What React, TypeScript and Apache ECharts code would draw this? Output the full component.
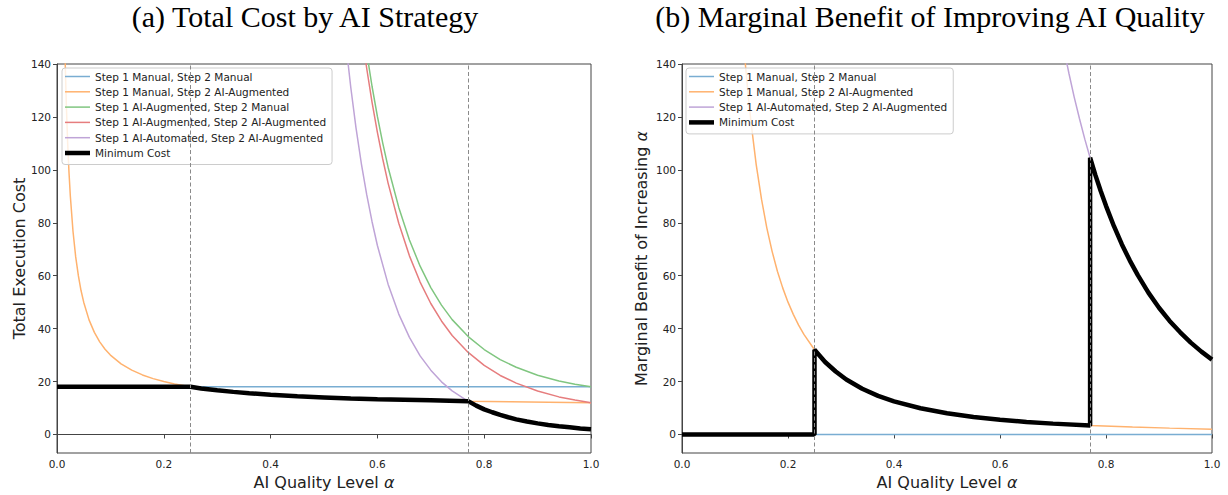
import React, { useEffect, useRef } from "react";
import * as echarts from "echarts";

// ---------- shared ----------
const seriesNames = [
  "Step 1 Manual, Step 2 Manual",
  "Step 1 Manual, Step 2 AI-Augmented",
  "Step 1 AI-Augmented, Step 2 Manual",
  "Step 1 AI-Augmented, Step 2 AI-Augmented",
  "Step 1 AI-Automated, Step 2 AI-Augmented",
  "Minimum Cost",
];
const seriesColors = ["#79add2", "#ffb26e", "#80c680", "#e67d7e", "#bfa4d7", "#000000"];
const thresholds = [0.25, 0.77];
const xTicks = [0, 0.2, 0.4, 0.6, 0.8, 1.0];
const yTicks = [0, 20, 40, 60, 80, 100, 120, 140];

// ---------- (a) Total cost ----------
const costMMAlpha = [0, 1];
const costMM = [18, 18];

const costMAAlpha = [0.015, 0.0175, 0.02, 0.0225, 0.025, 0.03, 0.035, 0.04, 0.045, 0.05, 0.06, 0.07, 0.08, 0.09, 0.1, 0.12, 0.14, 0.16, 0.18, 0.2, 0.22, 0.25, 0.3, 0.35, 0.4, 0.5, 0.6, 0.7, 0.77, 0.85, 0.92, 1.0];
const costMA = [143.3, 124.3, 110, 98.9, 90, 76.7, 67.1, 60, 54.4, 50, 43.3, 38.6, 35, 32.2, 30, 26.7, 24.3, 22.5, 21.1, 20, 19.1, 18, 16.7, 15.7, 15, 14, 13.3, 12.9, 12.6, 12.4, 12.2, 12];

const costAugAlpha = [0.57, 0.58, 0.59, 0.6, 0.61, 0.62, 0.64, 0.66, 0.68, 0.7, 0.72, 0.74, 0.77, 0.8, 0.83, 0.86, 0.9, 0.94, 0.97, 1.0];
const costAM = [158.8, 144.3, 131.5, 120.2, 110.1, 101.0, 85.8, 73.5, 63.6, 55.5, 48.9, 43.4, 37.0, 32.1, 28.3, 25.4, 22.4, 20.2, 19.0, 18.0];
const costAA = [152.8, 138.3, 125.5, 114.2, 104.1, 95.0, 79.8, 67.5, 57.6, 49.5, 42.9, 37.4, 31.0, 26.1, 22.3, 19.4, 16.4, 14.2, 13.0, 12.0];

const costAutoAlpha = [0.54, 0.55, 0.56, 0.57, 0.58, 0.59, 0.6, 0.62, 0.64, 0.66, 0.68, 0.7, 0.72, 0.74, 0.77, 0.8, 0.83, 0.86, 0.9, 0.94, 0.97, 1.0];
const costAuto = [149.4, 131.4, 115.8, 102.3, 90.6, 80.4, 71.4, 56.8, 45.5, 36.7, 29.7, 24.3, 19.9, 16.5, 12.5, 9.5, 7.4, 5.7, 4.2, 3.1, 2.5, 2.0];

const costMinAlpha = [0, 0.25, 0.27, 0.3, 0.33, 0.36, 0.4, 0.45, 0.5, 0.55, 0.6, 0.65, 0.7, 0.77, 0.785, 0.8, 0.815, 0.83, 0.845, 0.86, 0.88, 0.9, 0.92, 0.94, 0.96, 0.98, 1.0];
const costMin = [18, 18, 17.4, 16.7, 16.1, 15.6, 15.0, 14.4, 14.0, 13.6, 13.3, 13.1, 12.9, 12.6, 10.9, 9.5, 8.4, 7.4, 6.5, 5.7, 4.9, 4.2, 3.6, 3.1, 2.7, 2.3, 2.0];

// ---------- (b) Marginal benefit ----------
const mbMMAlpha = [0, 1];
const mbMM = [0, 0];

const mbMAAlpha = [0.115, 0.12, 0.125, 0.13, 0.14, 0.15, 0.16, 0.17, 0.18, 0.19, 0.2, 0.21, 0.22, 0.23, 0.25, 0.27, 0.29, 0.31, 0.34, 0.37, 0.4, 0.45, 0.5, 0.55, 0.6, 0.65, 0.7, 0.77, 0.85, 0.92, 1.0];
const mbMA = [151.2, 138.9, 128, 118.3, 102.0, 88.9, 78.1, 69.2, 61.7, 55.4, 50, 45.4, 41.3, 37.8, 32, 27.4, 23.8, 20.8, 17.3, 14.6, 12.5, 9.9, 8, 6.6, 5.6, 4.7, 4.1, 3.4, 2.8, 2.4, 2.0];

const mbAutoAlpha = [0.72, 0.73, 0.74, 0.75, 0.76, 0.77, 0.78, 0.79, 0.8, 0.83, 0.86, 0.9, 0.94, 0.97, 1.0];
const mbAuto = [146.3, 136.5, 127.5, 119.3, 111.6, 104.6, 98.0, 92.0, 86.4, 71.8, 60.2, 47.9, 38.6, 33.0, 28.3];

const mbMinAlpha = [0, 0.25, 0.25, 0.27, 0.29, 0.31, 0.34, 0.37, 0.4, 0.45, 0.5, 0.55, 0.6, 0.65, 0.7, 0.77, 0.77, 0.78, 0.79, 0.8, 0.815, 0.83, 0.845, 0.86, 0.88, 0.9, 0.92, 0.94, 0.96, 0.98, 1.0];
const mbMin = [0, 0, 32, 27.4, 23.8, 20.8, 17.3, 14.6, 12.5, 9.9, 8, 6.6, 5.6, 4.7, 4.1, 3.4, 104.6, 98.0, 92.0, 86.4, 78.7, 71.8, 65.7, 60.2, 53.6, 47.9, 42.9, 38.6, 34.7, 31.3, 28.3];

const zip = (xs: number[], ys: number[]) => xs.map((x, i) => [x, ys[i]]);

const SANS = "DejaVu Sans";
const TEXT = "#222";

function lineSeries(name: string, color: string, data: number[][], gi: number, width = 1.5) {
  return {
    type: "line",
    name,
    xAxisIndex: gi,
    yAxisIndex: gi,
    data,
    symbol: "none",
    showSymbol: false,
    smooth: false,
    silent: true,
    lineStyle: { color, width },
    itemStyle: { color },
    z: 2,
  };
}

function annotSeries(gi: number, yPos: number) {
  return {
    type: "scatter",
    xAxisIndex: gi,
    yAxisIndex: gi,
    symbolSize: 1,
    itemStyle: { opacity: 0 },
    silent: true,
    z: 10,
    data: thresholds.map((t) => [t + 0.015, yPos]),
    label: {
      show: true,
      position: "right",
      distance: 0,
      fontFamily: SANS,
      fontSize: 10.5,
      color: TEXT,
      formatter: (p: any) => `{i|α} = ${thresholds[p.dataIndex].toFixed(2)}`,
      rich: { i: { fontStyle: "italic", fontFamily: SANS, fontSize: 10.5, color: TEXT } },
    },
    markLine: {
      silent: true,
      symbol: ["none", "none"],
      label: { show: false },
      lineStyle: { type: [4, 2.5], color: "#8a8a8a", width: 1 },
      data: thresholds.map((t) => ({ xAxis: t })),
    },
  };
}

function xAxis(gi: number) {
  return {
    gridIndex: gi,
    type: "value",
    min: 0,
    max: 1,
    interval: 0.2,
    name: "AI Quality Level {i|α}",
    nameLocation: "middle",
    nameGap: 21,
    nameTextStyle: {
      fontFamily: SANS,
      fontSize: 16,
      color: TEXT,
      rich: { i: { fontStyle: "italic", fontFamily: SANS, fontSize: 16, color: TEXT } },
    },
    axisLine: { lineStyle: { color: "#444", width: 1 } },
    axisTick: { show: true, inside: false, length: 4, lineStyle: { color: "#444" } },
    axisLabel: {
      margin: 5,
      fontFamily: SANS,
      fontSize: 10.5,
      color: TEXT,
      formatter: (v: number) => v.toFixed(1),
      customValues: xTicks,
    },
    splitLine: { show: false },
  };
}

function yAxis(gi: number, name: string, gap: number) {
  return {
    gridIndex: gi,
    type: "value",
    min: -7,
    max: 140,
    name,
    nameLocation: "middle",
    nameGap: gap,
    nameTextStyle: {
      fontFamily: SANS,
      fontSize: 16,
      color: TEXT,
      rich: { i: { fontStyle: "italic", fontFamily: SANS, fontSize: 16, color: TEXT } },
    },
    axisLine: { show: true, lineStyle: { color: "#444", width: 1 } },
    axisTick: { show: true, inside: false, length: 4, lineStyle: { color: "#444" }, customValues: yTicks },
    axisLabel: { margin: 6, fontFamily: SANS, fontSize: 10.5, color: TEXT, customValues: yTicks },
    splitLine: { show: false },
  };
}

function legend(left: number, idx: number[]) {
  return {
    left,
    top: 68,
    orient: "vertical",
    selectedMode: false,
    itemWidth: 25,
    itemHeight: 10,
    itemGap: 4.3,
    padding: [3, 6, 6, 3],
    backgroundColor: "rgba(255,255,255,0.8)",
    borderColor: "#cccccc",
    borderWidth: 1,
    borderRadius: 3,
    textStyle: { fontFamily: SANS, fontSize: 10.5, color: TEXT, lineHeight: 11 },
    data: idx.map((i) => ({
      name: seriesNames[i],
      icon: i === 5 ? "path://M0,0 L25,0 L25,4.5 L0,4.5 Z" : "path://M0,0 L25,0 L25,1.5 L0,1.5 Z",
      itemStyle: { color: seriesColors[i] },
    })),
  };
}

export default function App() {
  const ref = useRef<HTMLDivElement>(null);
  useEffect(() => {
    if (!ref.current) return;
    const chart = echarts.init(ref.current, null, { renderer: "svg" });
    const option: any = {
      animation: false,
      backgroundColor: "#ffffff",
      grid: [
        { left: 57, top: 64, width: 534, height: 390, show: true, borderColor: "#444", borderWidth: 1, backgroundColor: "transparent" },
        { left: 682, top: 64, width: 530, height: 390, show: true, borderColor: "#444", borderWidth: 1, backgroundColor: "transparent" },
      ],
      xAxis: [xAxis(0), xAxis(1)],
      yAxis: [
        yAxis(0, "Total Execution Cost", 30),
        yAxis(1, "Marginal Benefit of Increasing {i|α}", 33),
      ],
      legend: [legend(62, [0, 1, 2, 3, 4, 5]), legend(686, [0, 1, 4, 5])],
      graphic: [
        {
          type: "text",
          x: 305,
          y: 16,
          style: { text: "(a) Total Cost by AI Strategy", fill: "#000", font: '30px "Liberation Serif"', align: "center", verticalAlign: "middle" },
        },
        {
          type: "text",
          x: 930,
          y: 16,
          style: { text: "(b) Marginal Benefit of Improving AI Quality", fill: "#000", font: '30px "Liberation Serif"', align: "center", verticalAlign: "middle" },
        },
      ],
      series: [
        lineSeries(seriesNames[0], seriesColors[0], zip(costMMAlpha, costMM), 0),
        lineSeries(seriesNames[1], seriesColors[1], zip(costMAAlpha, costMA), 0),
        lineSeries(seriesNames[2], seriesColors[2], zip(costAugAlpha, costAM), 0),
        lineSeries(seriesNames[3], seriesColors[3], zip(costAugAlpha, costAA), 0),
        lineSeries(seriesNames[4], seriesColors[4], zip(costAutoAlpha, costAuto), 0),
        lineSeries(seriesNames[5], seriesColors[5], zip(costMinAlpha, costMin), 0, 4.5),
        annotSeries(0, 53.4),
        lineSeries(seriesNames[0], seriesColors[0], zip(mbMMAlpha, mbMM), 1),
        lineSeries(seriesNames[1], seriesColors[1], zip(mbMAAlpha, mbMA), 1),
        lineSeries(seriesNames[4], seriesColors[4], zip(mbAutoAlpha, mbAuto), 1),
        lineSeries(seriesNames[5], seriesColors[5], zip(mbMinAlpha, mbMin), 1, 4.5),
        annotSeries(1, 43.3),
      ],
    };
    chart.setOption(option);
    return () => chart.dispose();
  }, []);
  return (
    <div
      ref={ref}
      style={{ position: "absolute", left: 0, top: 0, width: 1228, height: 495, background: "#fff" }}
    />
  );
}
